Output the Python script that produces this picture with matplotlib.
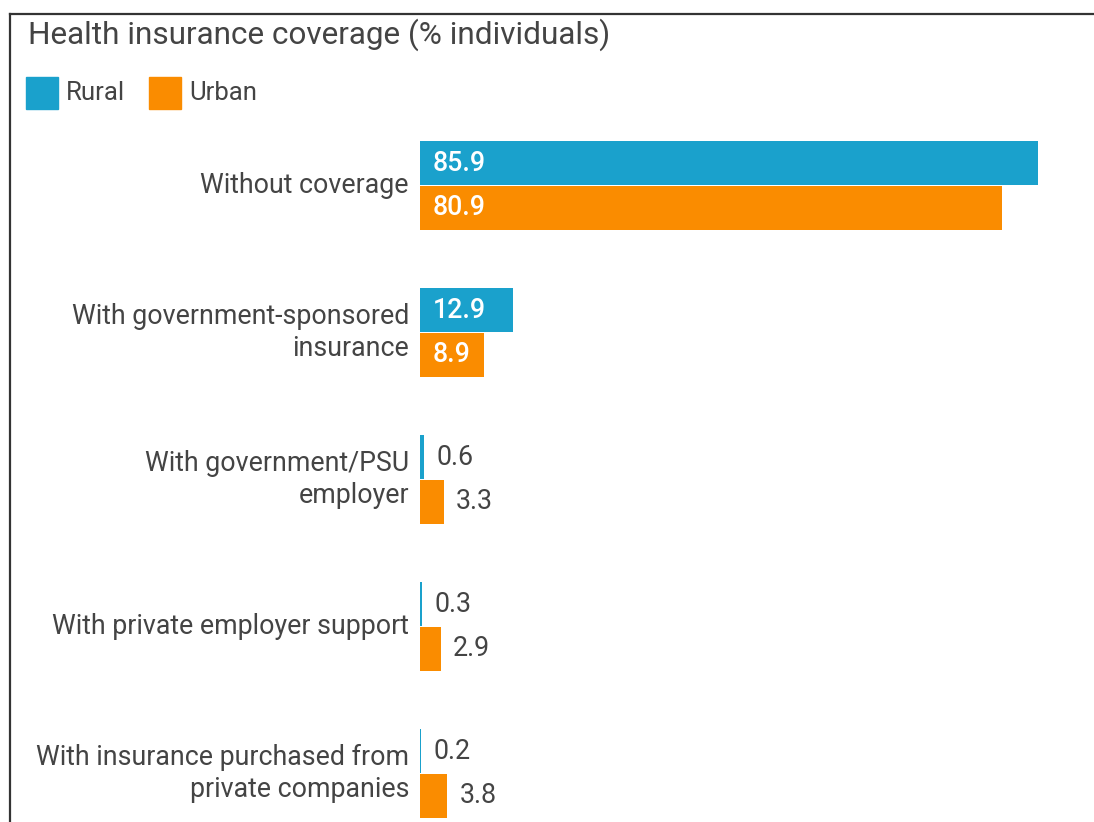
import matplotlib
matplotlib.use("Agg")
import matplotlib.pyplot as plt
from matplotlib.lines import Line2D
from matplotlib.patches import Rectangle

plt.rcParams['font.family'] = ['Roboto', 'DejaVu Sans']

categories = [
    "Without coverage",
    "With government-sponsored\ninsurance",
    "With government/PSU\nemployer",
    "With private employer support",
    "With insurance purchased from\nprivate companies",
]
rural = [85.9, 12.9, 0.6, 0.3, 0.2]
urban = [80.9, 8.9, 3.3, 2.9, 3.8]
series_names = ["Rural", "Urban"]
title = "Health insurance coverage (% individuals)"

BLUE = "#1aa1cc"
ORANGE = "#fa8c00"
TEXT = "#444444"

W, H = 1094, 822
fig = plt.figure(figsize=(W / 100, H / 100), dpi=100)

# axes from pixel x 420..1039, y 112..822
ax_left, ax_right = 420, 1039
ax_top, ax_bottom = 112, 822
ax = fig.add_axes([ax_left / W, 1 - ax_bottom / H, (ax_right - ax_left) / W, (ax_bottom - ax_top) / H])
ax.set_xlim(0, 86)
ax.set_ylim(4.33, -0.5)
ax.axis("off")

bh = 0.302
off = 0.152
ys = list(range(len(categories)))
ax.barh([y - off for y in ys], rural, height=bh, color=BLUE, edgecolor='none')
ax.barh([y + off for y in ys], urban, height=bh, color=ORANGE, edgecolor='none')

fs = 19.3
for vals, sign in ((rural, -1), (urban, 1)):
    for y, v in zip(ys, vals):
        yy = y + sign * off
        if v > 5:
            ax.annotate(f"{v}", (0, yy), xytext=(13, 0), textcoords="offset pixels",
                        ha="left", va="center", color="white", fontsize=fs, fontweight="medium")
        else:
            ax.annotate(f"{v}", (v, yy), xytext=(12, 0), textcoords="offset pixels",
                        ha="left", va="center", color=TEXT, fontsize=fs)

for y, c in zip(ys, categories):
    ax.annotate(c, (0, y), xytext=(-11, 0), textcoords="offset pixels",
                ha="right", va="center", color=TEXT, fontsize=fs, linespacing=1.25,
                annotation_clip=False)

# title
fig.text(28 / W, 1 - 35 / H, title, ha="left", va="center", fontsize=22.7, color=TEXT)

# legend
sq = 32
for x0, name, col in ((26, series_names[0], BLUE), (149, series_names[1], ORANGE)):
    fig.patches.append(Rectangle((x0 / W, 1 - 109 / H), sq / W, sq / H,
                                 transform=fig.transFigure, color=col))
    fig.text((x0 + sq + 8) / W, 1 - 93 / H, name, ha="left", va="center", fontsize=18.5, color=TEXT)

# frame: top and left borders
fig.add_artist(Line2D([10 / W, 1], [1 - 14 / H, 1 - 14 / H], transform=fig.transFigure, color="#333333", lw=1.6))
fig.add_artist(Line2D([10 / W, 10 / W], [0, 1 - 14 / H], transform=fig.transFigure, color="#333333", lw=1.6))

fig.savefig("out.png", dpi=100, facecolor="white")
